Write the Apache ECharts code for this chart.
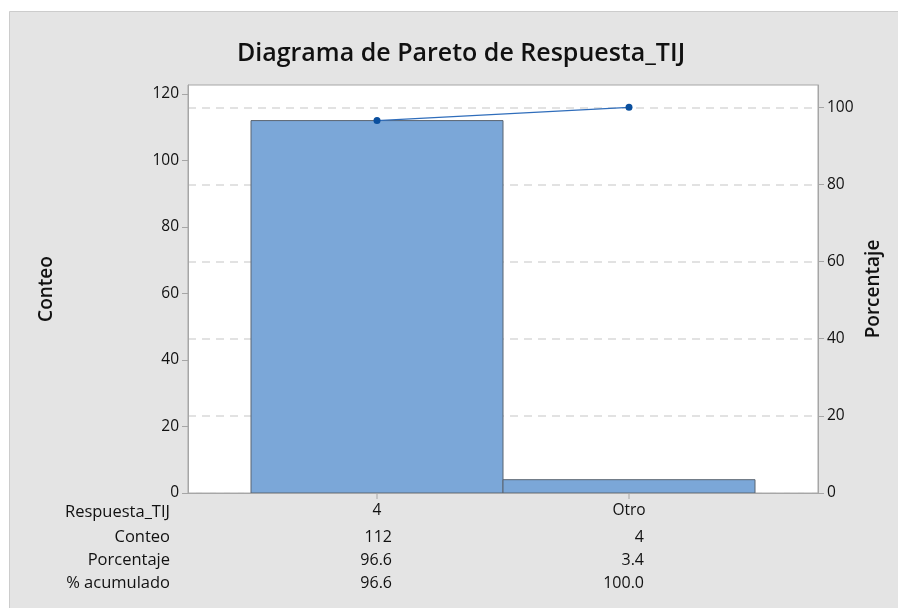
<!DOCTYPE html>
<html><head><meta charset="utf-8">
<script src="https://cdn.jsdelivr.net/npm/echarts@6/dist/echarts.min.js"></script>
<style>html,body{margin:0;padding:0;background:#fff;}#c{width:898px;height:608px;}</style>
</head><body><div id="c"></div>
<script>
const categories = ['4', 'Otro'];
const counts = [112, 4];
const percents = [96.6, 3.4];
const cumulative = [96.6, 100.0];
const countTicks = [0, 20, 40, 60, 80, 100, 120];
const pctTicks = [0, 20, 40, 60, 80, 100];
const rowLabels = ['Respuesta_TIJ', 'Conteo', 'Porcentaje', '% acumulado'];

const total = counts.reduce((a, b) => a + b, 0);
const cumPct = [];
let run = 0;
counts.forEach(c => { run += c; cumPct.push(run / total * 100); });
const leftMax = 122.7;
const rightMax = leftMax / total * 100;
const FONT = 'Open Sans';
const FRAME = '#a6a6a6';

const chart = echarts.init(document.getElementById('c'));
chart.setOption({
  animation: false,
  backgroundColor: '#ffffff',
  graphic: [
    { type: 'rect', left: 9, top: 11, shape: { width: 889, height: 597 }, style: { fill: '#e4e4e4', stroke: '#cccccc', lineWidth: 1 }, z: -10 },
    { type: 'text', style: { text: 'Diagrama de Pareto de Respuesta_TIJ', x: 461, y: 54, align: 'center', verticalAlign: 'middle', fill: '#111', font: '600 25px "' + FONT + '"' } },
  ].concat(rowLabels.map((t, i) => ({
    type: 'text', style: { text: t, x: 170, y: [512, 537, 560, 583][i], align: 'right', verticalAlign: 'middle', fill: '#111', font: '16.5px "' + FONT + '"' }
  }))),
  grid: { left: 188, right: 80, top: 85, bottom: 115, show: true, backgroundColor: '#ffffff', borderColor: FRAME, borderWidth: 1 },
  xAxis: {
    type: 'value', min: -0.75, max: 1.75, z: 5,
    axisLine: { show: true, onZero: false, lineStyle: { color: FRAME, width: 1 } },
    splitLine: { show: false },
    axisTick: { show: false },
    axisLabel: { customValues: [0, 1], formatter: v => categories[Math.round(v)], color: '#111', fontFamily: FONT, fontSize: 15.5, margin: 10 }
  },
  yAxis: [
    {
      type: 'value', min: 0, max: leftMax, position: 'left',
      name: 'Conteo', nameLocation: 'middle', nameGap: 132, nameRotate: 90,
      nameTextStyle: { color: '#111', fontFamily: FONT, fontSize: 19, fontWeight: 600 },
      axisLine: { show: true, onZero: false, lineStyle: { color: FRAME } },
      splitLine: { show: false },
      axisTick: { show: true, customValues: countTicks, length: 6, lineStyle: { color: FRAME } },
      axisLabel: { customValues: countTicks, color: '#111', fontFamily: FONT, fontSize: 15.5, margin: 9 }
    },
    {
      type: 'value', min: 0, max: rightMax, position: 'right',
      name: 'Porcentaje', nameLocation: 'middle', nameGap: 45, nameRotate: 90,
      nameTextStyle: { color: '#111', fontFamily: FONT, fontSize: 19, fontWeight: 600 },
      axisLine: { show: true, onZero: false, lineStyle: { color: FRAME } },
      splitLine: { show: true, lineStyle: { color: '#d9d9d9', type: [8, 6], width: 1.5 } },
      axisTick: { show: true, customValues: pctTicks, length: 6, lineStyle: { color: FRAME } },
      axisLabel: { customValues: pctTicks, color: '#111', fontFamily: FONT, fontSize: 15.5, margin: 9 }
    }
  ],
  series: [
    {
      type: 'custom',
      xAxisIndex: 0, yAxisIndex: 0,
      data: counts.map((c, i) => [i, c]),
      clip: false,
      renderItem: function (params, api) {
        const i = api.value(0);
        const v = api.value(1);
        const p0 = api.coord([i - 0.5, v]);
        const p1 = api.coord([i + 0.5, 0]);
        const cx = api.coord([i, 0])[0];
        const base = p1[1];
        const txt = (s, dy) => ({
          type: 'text',
          style: { text: s, x: cx + 15, y: base + dy, align: 'right', verticalAlign: 'middle', fill: '#111', font: '16px "' + FONT + '"' }
        });
        return {
          type: 'group',
          children: [
            { type: 'rect', shape: { x: p0[0], y: p0[1], width: p1[0] - p0[0], height: p1[1] - p0[1] },
              style: { fill: '#7ba7d8', stroke: '#5b6470', lineWidth: 1 } },
            { type: 'line', shape: { x1: cx, y1: base + 1, x2: cx, y2: base + 6 }, style: { stroke: FRAME, lineWidth: 1 } },
            txt(String(counts[i]), 44),
            txt(percents[i].toFixed(1), 67),
            txt(cumulative[i].toFixed(1), 90)
          ]
        };
      },
      z: 2
    },
    {
      type: 'line',
      xAxisIndex: 0, yAxisIndex: 1,
      data: cumPct.map((p, i) => [i, p]),
      symbol: 'circle', symbolSize: 7,
      itemStyle: { color: '#0a4f9e' },
      lineStyle: { color: '#2f6dbb', width: 1.2 },
      z: 5
    }
  ]
});
</script></body></html>
